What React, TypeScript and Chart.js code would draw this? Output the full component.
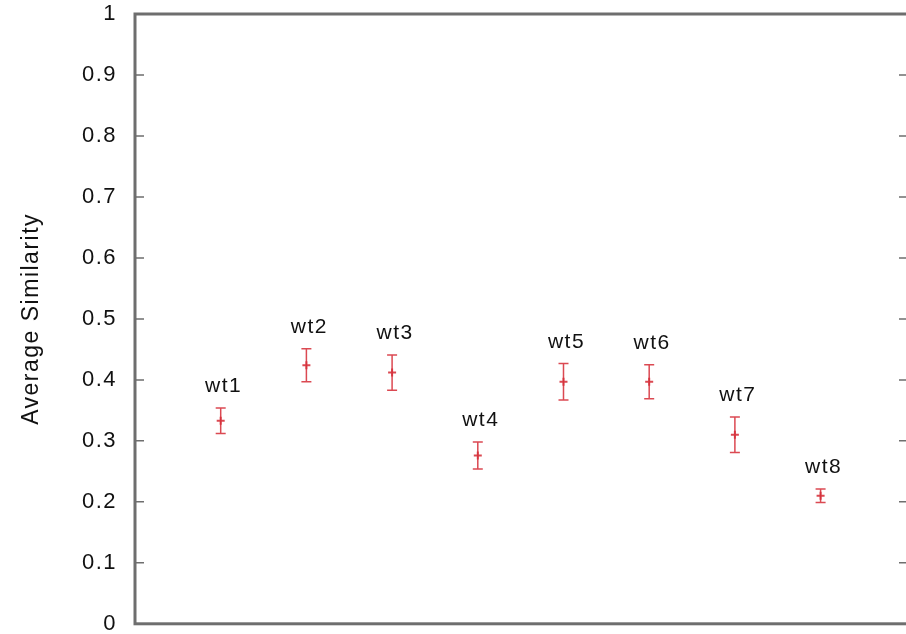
import React, { useEffect, useRef } from "react";
import { Chart, registerables } from "chart.js";

Chart.register(...registerables);

const categories = ["wt1", "wt2", "wt3", "wt4", "wt5", "wt6", "wt7", "wt8"];
const similarity = [0.333, 0.424, 0.412, 0.276, 0.397, 0.397, 0.31, 0.21];
const errors = [0.021, 0.027, 0.029, 0.022, 0.03, 0.028, 0.029, 0.011];
const yTicks = [0, 0.1, 0.2, 0.3, 0.4, 0.5, 0.6, 0.7, 0.8, 0.9, 1];

const RED = "rgba(214, 48, 58, 0.88)";
const AXIS = "#6e6e6e";
const FONT = "'Liberation Sans', Arial, Helvetica, sans-serif";

const errorPlugin = {
  id: "errorBarsAndFrame",
  beforeLayout(chart: any) {
    chart.ctx.letterSpacing = "1.5px";
  },
  beforeDraw(chart: any) {
    chart.ctx.letterSpacing = "1.5px";
  },
  afterDatasetsDraw(chart: any) {
    const ctx = chart.ctx;
    const xs = chart.scales.x;
    const ys = chart.scales.y;
    const area = chart.chartArea;
    ctx.save();
    ctx.strokeStyle = RED;
    ctx.lineWidth = 1.5;
    similarity.forEach((v, i) => {
      const px = xs.getPixelForValue(i + 1);
      const top = ys.getPixelForValue(v + errors[i]);
      const bot = ys.getPixelForValue(v - errors[i]);
      ctx.beginPath();
      ctx.moveTo(px, top);
      ctx.lineTo(px, bot);
      ctx.moveTo(px - 5, top);
      ctx.lineTo(px + 5, top);
      ctx.moveTo(px - 5, bot);
      ctx.lineTo(px + 5, bot);
      ctx.stroke();
    });
    ctx.fillStyle = "#111";
    ctx.font = `21px ${FONT}`;
    ctx.letterSpacing = "1.5px";
    ctx.textAlign = "center";
    ctx.textBaseline = "bottom";
    categories.forEach((c, i) => {
      const px = xs.getPixelForValue(i + 1);
      const top = ys.getPixelForValue(similarity[i] + errors[i]);
      ctx.fillText(c, px + 3, top - 11);
    });
    ctx.strokeStyle = AXIS;
    ctx.lineWidth = 3;
    ctx.strokeRect(area.left, area.top, area.right - area.left, area.bottom - area.top);
    ctx.lineWidth = 1.5;
    yTicks.forEach((t) => {
      const py = ys.getPixelForValue(t);
      ctx.beginPath();
      ctx.moveTo(area.left, py);
      ctx.lineTo(area.left + 9, py);
      ctx.moveTo(area.right, py);
      ctx.lineTo(area.right - 9, py);
      ctx.stroke();
    });
    ctx.restore();
  },
};

export default function App() {
  const ref = useRef<HTMLCanvasElement | null>(null);
  useEffect(() => {
    if (!ref.current) return;
    const chart = new Chart(ref.current, {
      type: "scatter",
      data: {
        datasets: [
          {
            label: "Average Similarity",
            data: similarity.map((v, i) => ({ x: i + 1, y: v })),
            pointStyle: "cross",
            pointRadius: 4,
            pointBorderWidth: 2,
            borderColor: RED,
            backgroundColor: RED,
          },
        ],
      },
      options: {
        animation: false,
        responsive: false,
        devicePixelRatio: 1,
        layout: { padding: { top: 14, left: 0, right: 2, bottom: 0 } },
        plugins: {
          legend: { display: false },
          tooltip: { enabled: false },
        },
        scales: {
          x: {
            type: "linear",
            min: 0,
            max: 9.02,
            grid: { display: false },
            border: { display: false },
            ticks: { display: false },
            afterFit: (s: any) => {
              s.height = 10;
            },
          },
          y: {
            min: 0,
            max: 1,
            grid: {
              display: true,
              drawOnChartArea: false,
              drawTicks: true,
              tickLength: 18,
              tickColor: "rgba(0,0,0,0)",
            },
            border: { display: false },
            afterFit: (s: any) => {
              s.width = 135;
            },
            ticks: {
              stepSize: 0.1,
              padding: 0,
              color: "#111",
              font: { family: FONT, size: 22 },
              callback: (v: any) => String(+Number(v).toFixed(1)),
            },
            title: {
              display: true,
              text: "Average Similarity",
              color: "#111",
              font: { family: FONT, size: 23 },
              padding: { top: 18, bottom: 0 },
            },
          },
        },
      },
      plugins: [errorPlugin],
    });
    return () => chart.destroy();
  }, []);
  return (
    <div style={{ position: "fixed", left: 0, top: 0, width: 906, height: 634, overflow: "hidden", background: "#fff" }}>
      <canvas ref={ref} width={914} height={637} style={{ display: "block" }} />
    </div>
  );
}
